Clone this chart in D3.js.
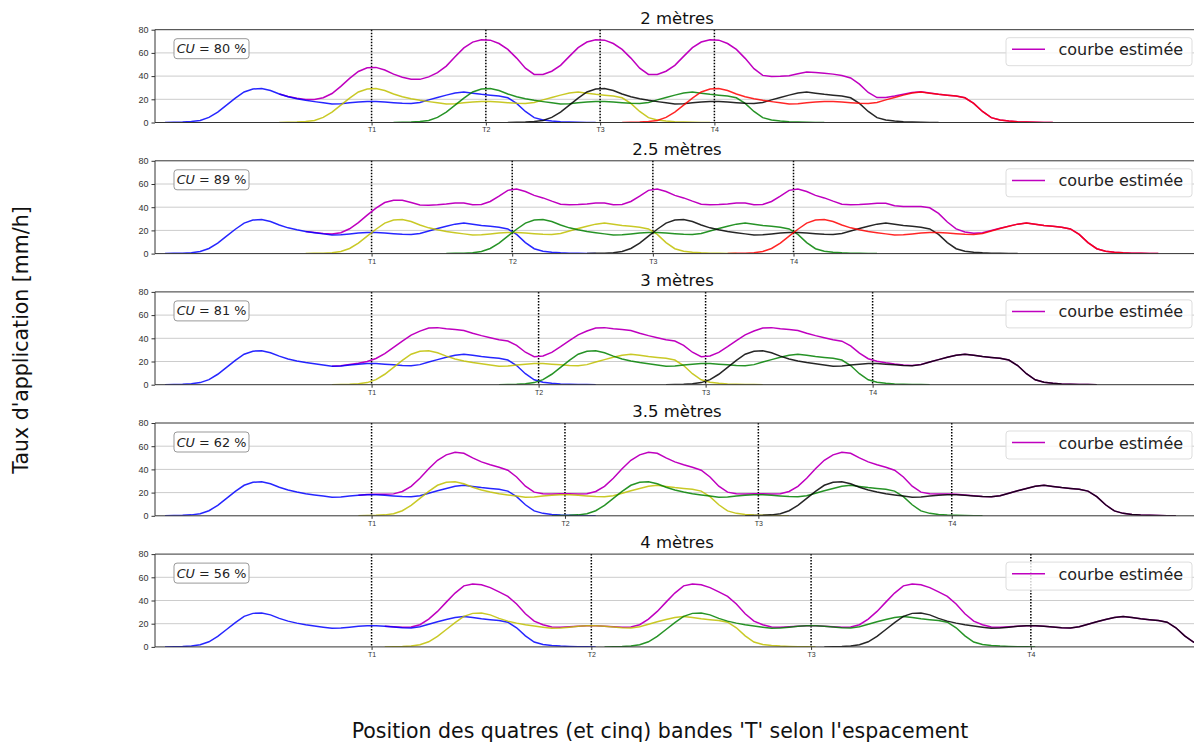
<!DOCTYPE html>
<html>
<head>
<meta charset="utf-8">
<script src="https://cdn.jsdelivr.net/npm/d3@7"></script>
<style>
  body { margin: 0; background: #fff; }
  svg { font-family: "DejaVu Sans", sans-serif; }
</style>
</head>
<body>
<svg id="chart" width="1194" height="742"></svg>
<script>
// one sprinkler profile [mm/h], one sample per step along the position axis
const profile = [
  0, 0.2, 0.4, 0.8, 1.8, 4.4, 9, 15, 21, 26.3,
  28.9, 29.3, 27.6, 24.6, 22.2, 20.5, 19.1, 18, 17, 16,
  16.2, 17, 17.7, 18.2, 18.2, 17.7, 17.1, 16.6, 16.4, 17.3,
  19.5, 21.6, 23.6, 25.4, 26.3, 25.3, 24.3, 23.5, 22.8, 21.3,
  16.5, 9.5, 4.2, 2.1, 1.2, 0.7, 0.4, 0.2, 0.1, 0
];
const panelTitles = ['2 mètres', '2.5 mètres', '3 mètres', '3.5 mètres', '4 mètres'];
const cuValues = [80, 89, 81, 62, 56];
const shifts = [13, 16, 19, 22, 25];          // spacing between bands, in samples
const sprinklerCounts = [5, 5, 4, 4, 4];
const bandCentre = 23.5;                      // position of T1 inside the profile
const tLabels = ['T1', 'T2', 'T3', 'T4'];
const yTicks = [0, 20, 40, 60, 80];

const curveColors = ['#0000ff', '#bfbf00', '#008000', '#000000', '#ff0000'];
const sumColor = '#bf00bf';

const margin = { left: 155, top: 29.7 };
const panelW = 1044;
const panelH = 92.8;
const panelStep = 131.1;

const svg = d3.select('#chart');

const xScale = d3.scaleLinear().domain([-1.138, 117.63]).range([0, panelW]);
const yScale = d3.scaleLinear().domain([0, 80]).range([panelH, 0]);
const line = d3.line().x((d) => xScale(d[0])).y((d) => yScale(d[1]));

function sprinklerCurve(start) {
  return profile.map((v, i) => [start + i, v]);
}

function sumCurve(shift, count) {
  const pts = [];
  const end = (count - 1) * shift + profile.length - 1;
  for (let j = shift; j <= end; j++) {
    let total = 0;
    for (let k = 0; k < count; k++) {
      const i = j - k * shift;
      if (i >= 0 && i < profile.length) total += profile[i];
    }
    pts.push([j, total]);
  }
  return pts;
}

function drawPanel(p) {
  const shift = shifts[p];
  const count = sprinklerCounts[p];
  const g = svg.append('g')
    .attr('transform', `translate(${margin.left},${margin.top + p * panelStep})`);

  g.append('clipPath').attr('id', 'clip' + p)
    .append('rect').attr('width', panelW).attr('height', panelH);

  // grid
  g.selectAll('.grid').data(yTicks.slice(1, -1)).enter().append('line')
    .attr('x1', 0).attr('x2', panelW)
    .attr('y1', (d) => yScale(d)).attr('y2', (d) => yScale(d))
    .attr('stroke', '#cccccc').attr('stroke-width', 1);

  // band markers
  const tPos = tLabels.map((_, k) => bandCentre + k * shift);
  g.selectAll('.band').data(tPos).enter().append('line')
    .attr('x1', (d) => xScale(d)).attr('x2', (d) => xScale(d))
    .attr('y1', 0).attr('y2', panelH)
    .attr('stroke', '#000').attr('stroke-width', 1.5)
    .attr('stroke-dasharray', '1.5,1.5');

  const plot = g.append('g').attr('clip-path', `url(#clip${p})`);

  plot.append('path')
    .attr('d', line(sumCurve(shift, count)))
    .attr('fill', 'none').attr('stroke', sumColor).attr('stroke-width', 1.5);

  for (let k = 0; k < count; k++) {
    plot.append('path')
      .attr('d', line(sprinklerCurve(k * shift)))
      .attr('fill', 'none').attr('stroke', curveColors[k])
      .attr('stroke-width', 1.5).attr('stroke-opacity', 0.85);
  }

  // axes
  const yAxis = d3.axisLeft(yScale).tickValues(yTicks).tickSize(3.5).tickPadding(3);
  const ya = g.append('g').call(yAxis);
  ya.select('.domain').remove();
  ya.selectAll('text').style('font-size', '9px').attr('fill', '#333');
  ya.selectAll('line').attr('stroke', '#333');

  const xAxis = d3.axisBottom(xScale).tickValues(tPos)
    .tickFormat((d, i) => tLabels[i]).tickSize(3).tickPadding(2);
  const xa = g.append('g').attr('transform', `translate(0,${panelH})`).call(xAxis);
  xa.select('.domain').remove();
  xa.selectAll('text').style('font-size', '7px').attr('fill', '#333');
  xa.selectAll('line').attr('stroke', '#333');

  // spines
  g.append('path')
    .attr('d', `M${panelW},0H0V${panelH}H${panelW}`)
    .attr('fill', 'none').attr('stroke', '#333').attr('stroke-width', 1);

  // title
  g.append('text')
    .attr('x', panelW / 2).attr('y', -6)
    .attr('text-anchor', 'middle')
    .style('font-size', '16.5px').attr('fill', '#111')
    .text(panelTitles[p]);

  // CU box
  g.append('rect')
    .attr('x', 19).attr('y', 9).attr('width', 75).attr('height', 20)
    .attr('rx', 3).attr('fill', '#fff').attr('stroke', '#999');
  const cu = g.append('text').attr('x', 56.5).attr('y', 23.6)
    .attr('text-anchor', 'middle')
    .style('font-size', '12.8px').attr('fill', '#222');
  cu.append('tspan').style('font-style', 'italic').text('CU');
  cu.append('tspan').text(` = ${cuValues[p]} %`);

  // legend
  const lg = g.append('g').attr('transform', 'translate(851,8)');
  lg.append('rect').attr('width', 186).attr('height', 28).attr('rx', 3)
    .attr('fill', '#fff').attr('fill-opacity', 0.8).attr('stroke', '#dddddd');
  lg.append('line').attr('x1', 6).attr('x2', 39).attr('y1', 11.6).attr('y2', 11.6)
    .attr('stroke', sumColor).attr('stroke-width', 1.5);
  lg.append('text').attr('x', 52.5).attr('y', 17.5)
    .style('font-size', '16px').attr('fill', '#222').text('courbe estimée');
}

for (let p = 0; p < panelTitles.length; p++) drawPanel(p);

svg.append('text')
  .attr('transform', 'translate(28,340) rotate(-90)')
  .attr('text-anchor', 'middle')
  .style('font-size', '20.5px').attr('fill', '#111')
  .text("Taux d'application [mm/h]");

svg.append('text')
  .attr('x', 660).attr('y', 738)
  .attr('text-anchor', 'middle')
  .style('font-size', '20.5px').attr('fill', '#111')
  .text("Position des quatres (et cinq) bandes 'T' selon l'espacement");
</script>
</body>
</html>
